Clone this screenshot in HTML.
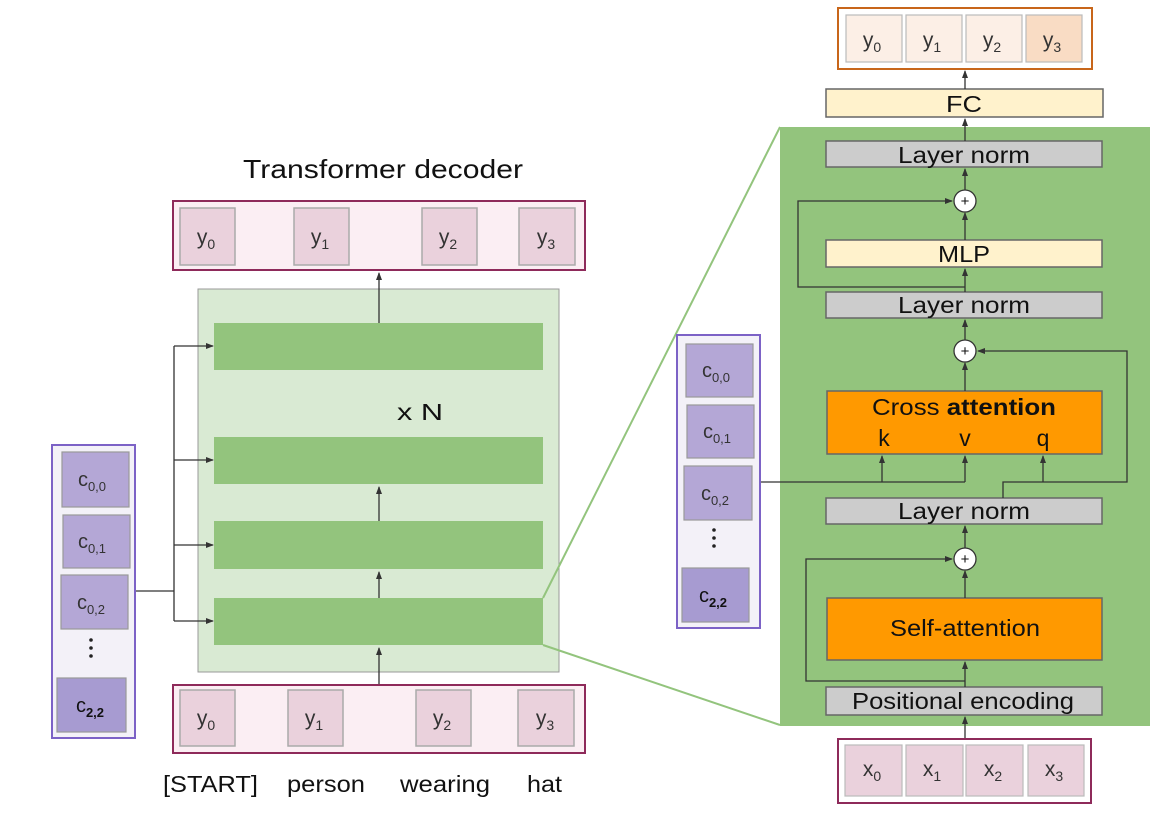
<!DOCTYPE html>
<html><head><meta charset="utf-8"><style>
html,body{margin:0;padding:0;background:#fff;}
svg{display:block;font-family:"Liberation Sans",Arial,sans-serif;}
</style></head><body>
<svg width="1165" height="826" viewBox="0 0 1165 826" xmlns="http://www.w3.org/2000/svg">
<defs>
<marker id="a" markerWidth="8" markerHeight="8" refX="7" refY="4" orient="auto" markerUnits="userSpaceOnUse"><path d="M0,1 L8,4 L0,7 z" fill="#333"/></marker>
</defs>
<!-- LEFT -->
<text x="383" y="178" font-size="26" text-anchor="middle" fill="#111" textLength="280" lengthAdjust="spacingAndGlyphs">Transformer decoder</text>
<rect x="173" y="201" width="412" height="69" fill="#fbeef3" stroke="#8e2a5a" stroke-width="2"/>
<g fill="#ead1dc" stroke="#aaa" stroke-width="1.5">
<rect x="180" y="208" width="55" height="57"/><rect x="294" y="208" width="55" height="57"/><rect x="422" y="208" width="55" height="57"/><rect x="519" y="208" width="56" height="57"/>
</g>
<g font-size="21" fill="#333" text-anchor="middle">
<text x="206" y="244">y<tspan font-size="14" dy="5">0</tspan></text>
<text x="320" y="244">y<tspan font-size="14" dy="5">1</tspan></text>
<text x="448" y="244">y<tspan font-size="14" dy="5">2</tspan></text>
<text x="546" y="244">y<tspan font-size="14" dy="5">3</tspan></text>
</g>
<rect x="198" y="289" width="361" height="383" fill="#d9ead3" stroke="#999" stroke-width="1"/>
<g fill="#93c47d">
<rect x="214" y="323" width="329" height="47"/><rect x="214" y="437" width="329" height="47"/><rect x="214" y="521" width="329" height="48"/><rect x="214" y="598" width="329" height="47"/>
</g>
<text x="420" y="420" font-size="23" text-anchor="middle" fill="#111" textLength="46" lengthAdjust="spacingAndGlyphs">x N</text>
<g stroke="#333" stroke-width="1.3" fill="none">
<line x1="379" y1="323" x2="379" y2="273" marker-end="url(#a)"/>
<line x1="379" y1="521" x2="379" y2="487" marker-end="url(#a)"/>
<line x1="379" y1="598" x2="379" y2="572" marker-end="url(#a)"/>
<line x1="379" y1="685" x2="379" y2="648" marker-end="url(#a)"/>
<polyline points="135,591 174,591"/>
<line x1="174" y1="346" x2="174" y2="621"/>
<line x1="174" y1="346" x2="213" y2="346" marker-end="url(#a)"/>
<line x1="174" y1="460" x2="213" y2="460" marker-end="url(#a)"/>
<line x1="174" y1="545" x2="213" y2="545" marker-end="url(#a)"/>
<line x1="174" y1="621" x2="213" y2="621" marker-end="url(#a)"/>
</g>
<rect x="52" y="445" width="83" height="293" fill="#f3f1f8" stroke="#7c62c6" stroke-width="2"/>
<g fill="#b4a7d6" stroke="#999" stroke-width="1.2">
<rect x="62" y="452" width="67" height="55"/><rect x="63" y="515" width="67" height="53"/><rect x="61" y="575" width="67" height="54"/>
<rect x="57" y="678" width="69" height="54" fill="#a79bd1"/>
</g>
<g font-size="20" fill="#333" text-anchor="middle">
<text x="92" y="486">c<tspan font-size="13" dy="5">0,0</tspan></text>
<text x="92" y="548">c<tspan font-size="13" dy="5">0,1</tspan></text>
<text x="91" y="609">c<tspan font-size="13" dy="5">0,2</tspan></text>
<text x="90" y="712" fill="#111">c<tspan font-size="13" dy="5" font-weight="bold">2,2</tspan></text>
</g>
<g fill="#222"><circle cx="91" cy="640" r="1.8"/><circle cx="91" cy="648" r="1.8"/><circle cx="91" cy="656" r="1.8"/></g>
<rect x="173" y="685" width="412" height="68" fill="#fbeef3" stroke="#8e2a5a" stroke-width="2"/>
<g fill="#ead1dc" stroke="#aaa" stroke-width="1.5">
<rect x="180" y="690" width="55" height="56"/><rect x="288" y="690" width="55" height="56"/><rect x="416" y="690" width="55" height="56"/><rect x="518" y="690" width="56" height="56"/>
</g>
<g font-size="21" fill="#333" text-anchor="middle">
<text x="206" y="725">y<tspan font-size="14" dy="5">0</tspan></text>
<text x="314" y="725">y<tspan font-size="14" dy="5">1</tspan></text>
<text x="442" y="725">y<tspan font-size="14" dy="5">2</tspan></text>
<text x="545" y="725">y<tspan font-size="14" dy="5">3</tspan></text>
</g>
<g font-size="23" fill="#111">
<text x="163" y="792" textLength="95" lengthAdjust="spacingAndGlyphs">[START]</text>
<text x="287" y="792" textLength="78" lengthAdjust="spacingAndGlyphs">person</text>
<text x="400" y="792" textLength="90" lengthAdjust="spacingAndGlyphs">wearing</text>
<text x="527" y="792" textLength="35" lengthAdjust="spacingAndGlyphs">hat</text>
</g>
<line x1="543" y1="598" x2="780" y2="127" stroke="#93c47d" stroke-width="2"/>
<line x1="543" y1="645" x2="780" y2="725" stroke="#93c47d" stroke-width="2"/>
<!-- RIGHT -->
<rect x="780" y="127" width="370" height="599" fill="#93c47d"/>
<rect x="838" y="8" width="254" height="61" fill="#fff" stroke="#c8661a" stroke-width="2"/>
<g stroke="#bbb" stroke-width="1.2">
<rect x="846" y="15" width="56" height="47" fill="#fcefe6"/><rect x="906" y="15" width="56" height="47" fill="#fcefe6"/><rect x="966" y="15" width="56" height="47" fill="#fcefe6"/><rect x="1026" y="15" width="56" height="47" fill="#f9dcc4"/>
</g>
<g font-size="21" fill="#333" text-anchor="middle">
<text x="872" y="47">y<tspan font-size="14" dy="5">0</tspan></text>
<text x="932" y="47">y<tspan font-size="14" dy="5">1</tspan></text>
<text x="992" y="47">y<tspan font-size="14" dy="5">2</tspan></text>
<text x="1052" y="47">y<tspan font-size="14" dy="5">3</tspan></text>
</g>
<g stroke="#666" stroke-width="1.5">
<rect x="826" y="89" width="277" height="28" fill="#fff2cc"/>
<rect x="826" y="141" width="276" height="26" fill="#cccccc"/>
<rect x="826" y="240" width="276" height="27" fill="#fff2cc"/>
<rect x="826" y="292" width="276" height="26" fill="#cccccc"/>
<rect x="827" y="391" width="275" height="63" fill="#ff9900"/>
<rect x="826" y="498" width="276" height="26" fill="#cccccc"/>
<rect x="827" y="598" width="275" height="62" fill="#ff9900"/>
<rect x="826" y="687" width="276" height="28" fill="#cccccc"/>
</g>
<g font-size="23" fill="#111" text-anchor="middle" lengthAdjust="spacingAndGlyphs">
<text x="964" y="112" textLength="36" lengthAdjust="spacingAndGlyphs">FC</text>
<text x="964" y="163" textLength="132" lengthAdjust="spacingAndGlyphs">Layer norm</text>
<text x="964" y="262" textLength="52" lengthAdjust="spacingAndGlyphs">MLP</text>
<text x="964" y="313" textLength="132" lengthAdjust="spacingAndGlyphs">Layer norm</text>
<text x="964" y="415" textLength="184" lengthAdjust="spacingAndGlyphs">Cross <tspan font-weight="bold">attention</tspan></text>
<text x="884" y="446">k</text><text x="965" y="446">v</text><text x="1043" y="446">q</text>
<text x="964" y="519" textLength="132" lengthAdjust="spacingAndGlyphs">Layer norm</text>
<text x="965" y="636" textLength="150" lengthAdjust="spacingAndGlyphs">Self-attention</text>
<text x="963" y="709" textLength="222" lengthAdjust="spacingAndGlyphs">Positional encoding</text>
</g>
<g stroke="#333" stroke-width="1.3" fill="none">
<line x1="965" y1="739" x2="965" y2="717" marker-end="url(#a)"/>
<line x1="965" y1="687" x2="965" y2="662" marker-end="url(#a)"/>
<line x1="965" y1="598" x2="965" y2="571" marker-end="url(#a)"/>
<line x1="965" y1="548" x2="965" y2="526" marker-end="url(#a)"/>
<line x1="965" y1="391" x2="965" y2="363" marker-end="url(#a)"/>
<line x1="965" y1="340" x2="965" y2="320" marker-end="url(#a)"/>
<line x1="965" y1="292" x2="965" y2="269" marker-end="url(#a)"/>
<line x1="965" y1="240" x2="965" y2="213" marker-end="url(#a)"/>
<line x1="965" y1="190" x2="965" y2="169" marker-end="url(#a)"/>
<line x1="965" y1="141" x2="965" y2="119" marker-end="url(#a)"/>
<line x1="965" y1="89" x2="965" y2="71" marker-end="url(#a)"/>
<polyline points="965,681 806,681 806,559 952,559" marker-end="url(#a)"/>
<polyline points="965,287 798,287 798,201 952,201" marker-end="url(#a)"/>
<polyline points="760,482 965,482"/>
<line x1="882" y1="482" x2="882" y2="456" marker-end="url(#a)"/>
<line x1="965" y1="482" x2="965" y2="456" marker-end="url(#a)"/>
<polyline points="1003,498 1003,482 1127,482 1127,351 978,351" marker-end="url(#a)"/>
<line x1="1043" y1="482" x2="1043" y2="456" marker-end="url(#a)"/>
</g>
<g fill="#fff" stroke="#333" stroke-width="1.3">
<circle cx="965" cy="201" r="11"/><circle cx="965" cy="351" r="11"/><circle cx="965" cy="559" r="11"/>
</g>
<g font-size="15" text-anchor="middle" fill="#111">
<text x="965" y="206">+</text><text x="965" y="356">+</text><text x="965" y="564">+</text>
</g>
<rect x="677" y="335" width="83" height="293" fill="#f3f1f8" stroke="#7c62c6" stroke-width="2"/>
<g fill="#b4a7d6" stroke="#999" stroke-width="1.2">
<rect x="686" y="344" width="67" height="53"/><rect x="687" y="405" width="67" height="53"/><rect x="684" y="466" width="68" height="54"/>
<rect x="682" y="568" width="67" height="54" fill="#a79bd1"/>
</g>
<g font-size="20" fill="#333" text-anchor="middle">
<text x="716" y="377">c<tspan font-size="13" dy="5">0,0</tspan></text>
<text x="717" y="438">c<tspan font-size="13" dy="5">0,1</tspan></text>
<text x="715" y="500">c<tspan font-size="13" dy="5">0,2</tspan></text>
<text x="713" y="602" fill="#111">c<tspan font-size="13" dy="5" font-weight="bold">2,2</tspan></text>
</g>
<g fill="#222"><circle cx="714" cy="530" r="1.8"/><circle cx="714" cy="538" r="1.8"/><circle cx="714" cy="546" r="1.8"/></g>
<rect x="838" y="739" width="253" height="64" fill="#fff" stroke="#8e2a5a" stroke-width="2"/>
<g fill="#ead1dc" stroke="#bbb" stroke-width="1.2">
<rect x="845" y="745" width="57" height="51"/><rect x="906" y="745" width="57" height="51"/><rect x="966" y="745" width="57" height="51"/><rect x="1028" y="745" width="56" height="51"/>
</g>
<g font-size="21" fill="#333" text-anchor="middle">
<text x="872" y="776">x<tspan font-size="14" dy="5">0</tspan></text>
<text x="932" y="776">x<tspan font-size="14" dy="5">1</tspan></text>
<text x="993" y="776">x<tspan font-size="14" dy="5">2</tspan></text>
<text x="1054" y="776">x<tspan font-size="14" dy="5">3</tspan></text>
</g>
</svg>
</body></html>
